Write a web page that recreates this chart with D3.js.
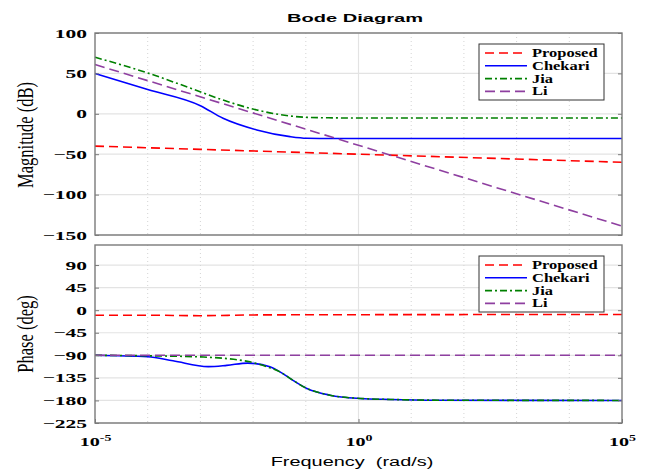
<!DOCTYPE html>
<html>
<head>
<meta charset="utf-8">
<script src="https://cdn.jsdelivr.net/npm/d3@7"></script>
<style>
  body { margin: 0; background: #fff; }
  svg { display: block; }
</style>
</head>
<body>
<div id="chart"></div>
<script>
// series names and styles
var seriesNames = ["Proposed", "Chekari", "Jia", "Li"];
var seriesColors = ["#ff0000", "#0000ff", "#008000", "#8e3fa0"];
var seriesDash = ["9,5", null, "7,3,2,3", "10,5"];

// magnitude (dB), x = log10(frequency)
var proposedMagW = [-5, -3, 0, 5];
var proposedMag  = [-40, -44, -50, -60];
var chekariMagW = [-5, -4, -3, -2.57, -1.93, -1.3, -0.98, -0.5, 0, 5];
var chekariMag  = [50, 30, 10, -5.6, -20, -28.3, -30.3, -30.6, -30.6, -30.6];
var jiaMagW = [-5, -4, -3.2, -2.57, -1.93, -1.3, -0.98, -0.5, 0, 5];
var jiaMag  = [70, 50.5, 32, 17, 4.7, -2.7, -4.4, -5, -5.2, -5.2];
var liMagW = [-5, 5];
var liMag  = [61, -139];

// phase (deg)
var proposedPhW = [-5, -4, -3, -2, 0, 5];
var proposedPh  = [-10, -10, -11, -9.5, -9, -8.6];
var chekariPhW = [-5, -4, -3.52, -2.85, -2.5, -2.1, -1.68, -1.49, -1.3, -0.98, -0.54, 0.03, 0.6, 1.5, 5];
var chekariPh  = [-90, -93, -101, -112.5, -110, -105.5, -113, -123, -136, -156, -169.5, -176, -178, -179.5, -180];
var jiaPhW = [-5, -4, -2.94, -2.37, -2.06, -1.68, -1.49, -1.3, -0.98, -0.54, 0.03, 0.6, 1.5, 5];
var jiaPh  = [-90, -91, -93.5, -98, -103, -115, -123, -136, -156, -169.5, -176, -178, -179.5, -180];
var liPhW = [-5, 5];
var liPh  = [-90, -90];

// ticks
var magTicks = [100, 50, 0, -50, -100, -150];
var phaseTicks = [90, 45, 0, -45, -90, -135, -180, -225];
var freqTicks = [1e-5, 1, 1e5];
var freqGrid = [1e-4, 1e-3, 1e-2, 1e-1, 1e1, 1e2, 1e3, 1e4];

var width = 647, height = 471;
var left = 95, right = 622;

var svg = d3.select("#chart").append("svg")
  .attr("width", width)
  .attr("height", height);

var x = d3.scaleLog().domain([1e-5, 1e5]).range([left, right]);
var yMag = d3.scaleLinear().domain([-150, 100]).range([235, 33]);
var yPh = d3.scaleLinear().domain([-225, 130]).range([423, 245]);

function pairs(w, v) {
  return w.map((d, i) => ({ f: Math.pow(10, d), v: v[i] }));
}

var magData = [pairs(proposedMagW, proposedMag), pairs(chekariMagW, chekariMag),
               pairs(jiaMagW, jiaMag), pairs(liMagW, liMag)];
var phData = [pairs(proposedPhW, proposedPh), pairs(chekariPhW, chekariPh),
              pairs(jiaPhW, jiaPh), pairs(liPhW, liPh)];

function panel(y, ticks, data, label, labelY, legendTop) {
  var top = y.range()[1], bottom = y.range()[0];
  var g = svg.append("g");

  // horizontal grid
  g.append("g").selectAll("line")
    .data(ticks)
    .join("line")
      .attr("x1", left).attr("x2", right)
      .attr("y1", d => y(d)).attr("y2", d => y(d))
      .attr("stroke", "#e3e3e3")
      .attr("stroke-width", 1.2);

  // vertical grid (dotted for minor decades, solid at labelled ones)
  g.append("g").selectAll("line")
    .data(freqGrid)
    .join("line")
      .attr("x1", d => x(d)).attr("x2", d => x(d))
      .attr("y1", top).attr("y2", bottom)
      .attr("stroke", "#d4d4d4")
      .attr("stroke-dasharray", "1,3");
  g.append("line")
    .attr("x1", x(1)).attr("x2", x(1))
    .attr("y1", top).attr("y2", bottom)
    .attr("stroke", "#e3e3e3")
    .attr("stroke-width", 1.2);

  // curves
  var line = d3.line()
    .x(d => x(d.f))
    .y(d => y(d.v))
    .curve(d3.curveMonotoneX);
  g.append("g").selectAll("path")
    .data(data)
    .join("path")
      .attr("d", line)
      .attr("fill", "none")
      .attr("stroke", (d, i) => seriesColors[i])
      .attr("stroke-width", 1.6)
      .attr("stroke-dasharray", (d, i) => seriesDash[i]);

  // frame
  g.append("rect")
    .attr("x", left).attr("y", top)
    .attr("width", right - left).attr("height", bottom - top)
    .attr("fill", "none")
    .attr("stroke", "#7a7a7a")
    .attr("stroke-width", 1.4);

  // y axis
  var ax = g.append("g")
    .attr("transform", "translate(" + left + ",0)")
    .call(d3.axisLeft(y).tickValues(ticks).tickSize(-4).tickPadding(0));
  ax.select(".domain").remove();
  ax.selectAll("line").attr("stroke", "#7a7a7a");
  ax.selectAll("text")
    .attr("x", 0)
    .attr("transform", "translate(-8,0) scale(1.72,1)")
    .attr("font-family", "Liberation Serif, Times New Roman, serif")
    .attr("font-weight", "bold")
    .attr("font-size", 12.5)
    .attr("fill", "#000");
  var axr = g.append("g")
    .attr("transform", "translate(" + right + ",0)")
    .call(d3.axisRight(y).tickValues(ticks).tickSize(-4).tickFormat(""));
  axr.select(".domain").remove();
  axr.selectAll("line").attr("stroke", "#7a7a7a");

  // y label
  svg.append("text")
    .attr("transform", "translate(33," + labelY + ") rotate(-90) scale(1,1.35)")
    .attr("text-anchor", "middle")
    .attr("font-family", "Liberation Serif, Times New Roman, serif")
    .attr("font-size", 16.5)
    .text(label);

  // legend
  var lg = svg.append("g").attr("transform", "translate(479," + legendTop + ")");
  lg.append("rect")
    .attr("width", 125).attr("height", 56)
    .attr("fill", "#fff")
    .attr("stroke", "#333")
    .attr("stroke-width", 1);
  var rows = lg.selectAll(".row")
    .data(seriesNames)
    .join("g")
      .attr("class", "row")
      .attr("transform", (d, i) => "translate(0," + (9 + i * 12.8) + ")");
  rows.append("line")
    .attr("x1", 6).attr("x2", 48)
    .attr("stroke", (d, i) => seriesColors[i])
    .attr("stroke-width", 1.6)
    .attr("stroke-dasharray", (d, i) => seriesDash[i]);
  rows.append("text")
    .attr("transform", "translate(53,4) scale(1.42,1)")
    .attr("font-family", "Liberation Serif, Times New Roman, serif")
    .attr("font-weight", "bold")
    .attr("font-size", 11.6)
    .text(d => d);
}

panel(yMag, magTicks, magData, "Magnitude (dB)", 135, 44);
panel(yPh, phaseTicks, phData, "Phase (deg)", 334, 256);

// x axis on the phase panel
var xa = svg.append("g")
  .attr("transform", "translate(0,423)")
  .call(d3.axisBottom(x).tickValues(freqTicks).tickSize(-4).tickFormat(""));
xa.select(".domain").remove();
xa.selectAll("line").attr("stroke", "#7a7a7a");
xa.selectAll(".tick").each(function(d) {
  var t = d3.select(this).append("text")
    .attr("transform", "translate(0,23) scale(1.55,1)")
    .attr("text-anchor", "middle")
    .attr("fill", "#000")
    .attr("font-family", "Liberation Serif, Times New Roman, serif")
    .attr("font-weight", "bold")
    .attr("font-size", 13);
  t.append("tspan").text("10");
  t.append("tspan")
    .attr("dy", -5)
    .attr("font-size", 9)
    .text(Math.round(Math.log10(d)));
});

// title and x label
svg.append("text")
  .attr("transform", "translate(355,22) scale(1.73,1)")
  .attr("text-anchor", "middle")
  .attr("font-family", "Liberation Sans, Arial, sans-serif")
  .attr("font-weight", "bold")
  .attr("font-size", 11.6)
  .text("Bode Diagram");

svg.append("text")
  .attr("transform", "translate(352,466) scale(1.62,1)")
  .attr("text-anchor", "middle")
  .attr("font-family", "Liberation Sans, Arial, sans-serif")
  .attr("font-size", 12.3)
  .style("white-space", "pre")
  .text("Frequency  (rad/s)");
</script>
</body>
</html>
